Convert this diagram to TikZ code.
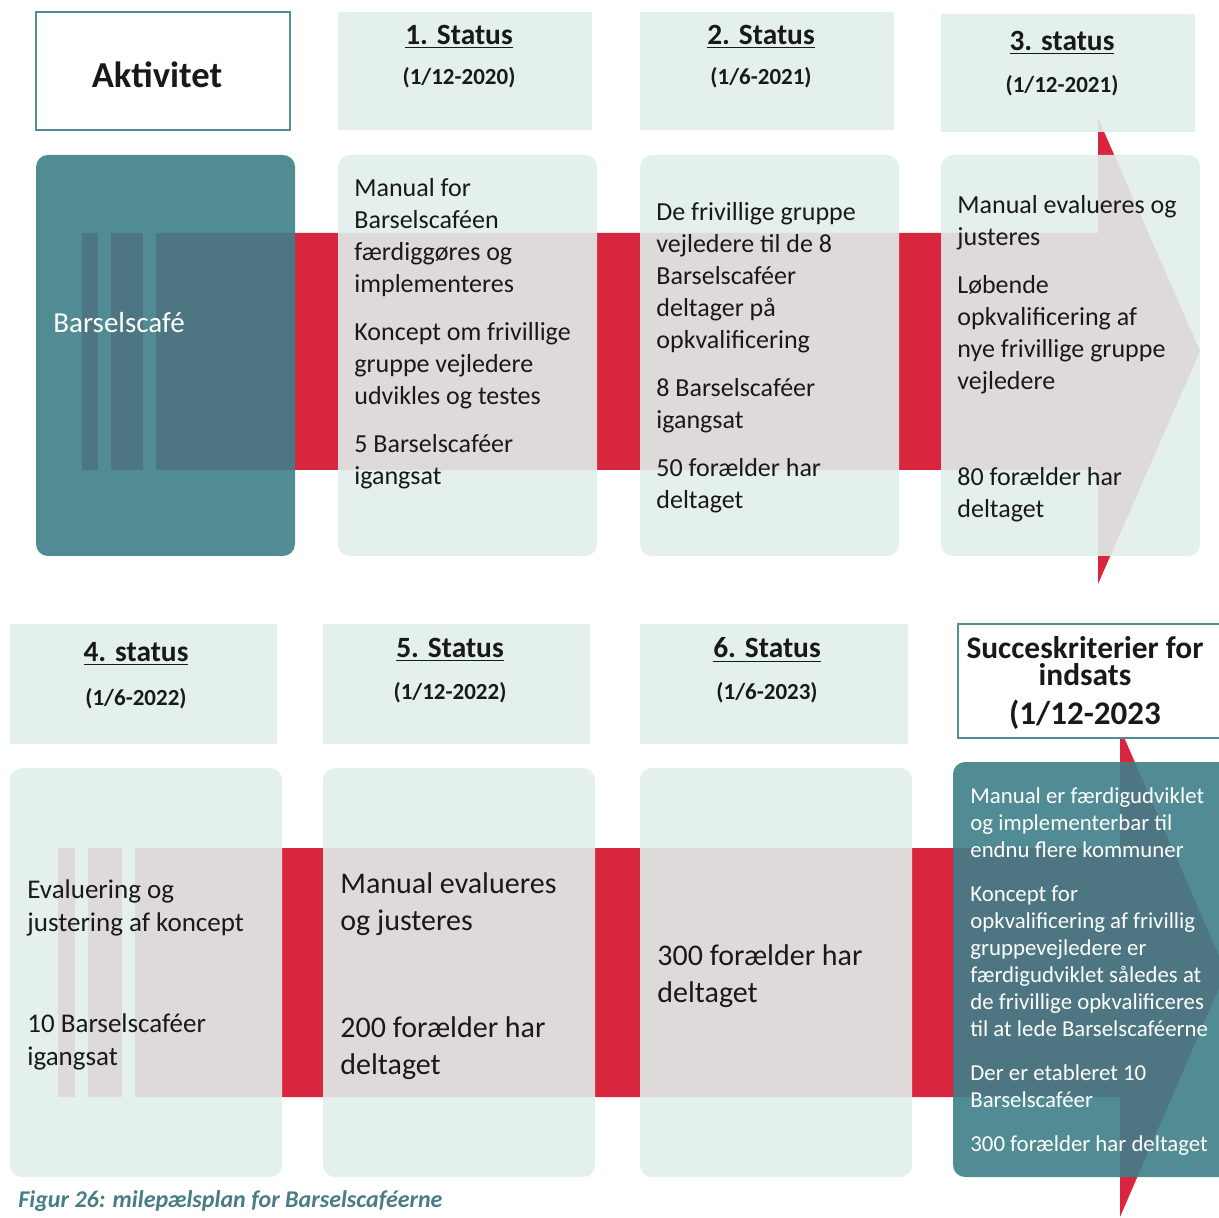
\documentclass[tikz,border=0pt]{standalone}
\usepackage{fontspec}
\setmainfont{Carlito}
\definecolor{arrowred}{RGB}{215,38,61}
\definecolor{mintfill}{RGB}{224,238,236}
\definecolor{tealfill}{RGB}{62,127,138}
\definecolor{tealline}{RGB}{84,140,150}
\definecolor{captionteal}{RGB}{72,124,134}
\definecolor{inktext}{RGB}{25,25,25}

\begin{document}
\begin{tikzpicture}[x=0.5pt, y=-0.5pt,
    mintbox/.style={fill=mintfill, fill opacity=0.9},
    tealbox/.style={fill=tealfill, fill opacity=0.9},
    headbox/.style={fill=white, draw=tealline, line width=0.6pt},
    bodytext/.style={anchor=north west, inner sep=0pt, align=left, text=inktext},
    headtext/.style={inner sep=0pt, align=center, text=inktext, font=\bfseries}]
    \useasboundingbox (0,0) rectangle (1219,1218);

    % top row arrow
    \fill [arrowred] (82,233) rectangle (98,470);
    \fill [arrowred] (111,233) rectangle (143,470);
    \fill [arrowred] (156,233) -- (1098,233) -- (1098,118) -- (1200,351)
        -- (1098,584) -- (1098,470) -- (156,470) -- cycle;

    % bottom row arrow
    \fill [arrowred] (58,848) rectangle (75,1097);
    \fill [arrowred] (88,848) rectangle (122,1097);
    \fill [arrowred] (135,848) -- (1120,848) -- (1120,728) -- (1226,972)
        -- (1120,1217) -- (1120,1097) -- (135,1097) -- cycle;

    % headers
    \fill [headbox] (36,12) rectangle (290,130);
    \fill [mintbox] (338,12) rectangle (592,130);
    \fill [mintbox] (640,12) rectangle (894,130);
    \fill [mintbox] (941,14) rectangle (1195,132);
    \fill [mintbox] (10,624) rectangle (277,744);
    \fill [mintbox] (323,624) rectangle (590,744);
    \fill [mintbox] (640,624) rectangle (908,744);
    \draw [headbox] (958,624) rectangle (1230,738);

    % content boxes
    \fill [tealbox, rounded corners=6pt] (36,155) rectangle (295,556);
    \fill [mintbox, rounded corners=6pt] (338,155) rectangle (597,556);
    \fill [mintbox, rounded corners=6pt] (640,155) rectangle (899,556);
    \fill [mintbox, rounded corners=6pt] (941,155) rectangle (1200,556);
    \fill [mintbox, rounded corners=6pt] (10,768) rectangle (282,1177);
    \fill [mintbox, rounded corners=6pt] (323,768) rectangle (595,1177);
    \fill [mintbox, rounded corners=6pt] (640,768) rectangle (912,1177);
    \fill [tealbox, rounded corners=6pt] (953,762) rectangle (1235,1177);

    % header texts
    \node [headtext, font=\bfseries\fontsize{18.3}{21}\selectfont] (aktivitet) at (157,75) {Aktivitet};
    \node [headtext, font=\bfseries\fontsize{14.7}{17}\selectfont] (status1) at (459,37) {\underline{1. Status}};
    \node [headtext, font=\bfseries\fontsize{11.5}{13}\selectfont] (date1) at (459,78) {(1/12-2020)};
    \node [headtext, font=\bfseries\fontsize{14.7}{17}\selectfont] (status2) at (761,37) {\underline{2. Status}};
    \node [headtext, font=\bfseries\fontsize{11.5}{13}\selectfont] (date2) at (761,78) {(1/6-2021)};
    \node [headtext, font=\bfseries\fontsize{14.7}{17}\selectfont] (status3) at (1062,43) {\underline{3. status}};
    \node [headtext, font=\bfseries\fontsize{11.5}{13}\selectfont] (date3) at (1062,86) {(1/12-2021)};
    \node [headtext, font=\bfseries\fontsize{14.7}{17}\selectfont] (status4) at (136,654) {\underline{4. status}};
    \node [headtext, font=\bfseries\fontsize{11.5}{13}\selectfont] (date4) at (136,699) {(1/6-2022)};
    \node [headtext, font=\bfseries\fontsize{14.7}{17}\selectfont] (status5) at (450,650) {\underline{5. Status}};
    \node [headtext, font=\bfseries\fontsize{11.5}{13}\selectfont] (date5) at (450,693) {(1/12-2022)};
    \node [headtext, font=\bfseries\fontsize{14.7}{17}\selectfont] (status6) at (767,650) {\underline{6. Status}};
    \node [headtext, font=\bfseries\fontsize{11.5}{13}\selectfont] (date6) at (767,693) {(1/6-2023)};
    \node [headtext, font=\bfseries\fontsize{15.7}{13.5}\selectfont] (succes) at (1085,661) {Succeskriterier for\\indsats};
    \node [headtext, font=\bfseries\fontsize{16.5}{19}\selectfont] (succesdate) at (1085,715) {(1/12-2023};

    % body texts
    \node [bodytext, text=white, font=\fontsize{14.5}{17}\selectfont, anchor=west] (barsel) at (53,323) {Barselscafé};
    \node [bodytext, font=\fontsize{13}{16}\selectfont] (text1) at (354,178)
        {Manual for\\Barselscaféen\\færdiggøres og\\implementeres\\[8pt]
         Koncept om frivillige\\gruppe vejledere\\udvikles og testes\\[8pt]
         5 Barselscaféer\\igangsat};
    \node [bodytext, font=\fontsize{13}{16}\selectfont] (text2) at (656,202)
        {De frivillige gruppe\\vejledere til de 8\\Barselscaféer\\deltager på\\opkvalificering\\[8pt]
         8 Barselscaféer\\igangsat\\[8pt]
         50 forælder har\\deltaget};
    \node [bodytext, font=\fontsize{13}{16}\selectfont] (text3) at (957,195)
        {Manual evalueres og\\justeres\\[8pt]
         Løbende\\opkvalificering af\\nye frivillige gruppe\\vejledere\\[32pt]
         80 forælder har\\deltaget};
    \node [bodytext, font=\fontsize{13.5}{16.5}\selectfont] (text4) at (27,879)
        {Evaluering og\\justering af koncept\\[34pt]
         10 Barselscaféer\\igangsat};
    \node [bodytext, font=\fontsize{15}{18.5}\selectfont] (text5) at (340,872)
        {Manual evalueres\\og justeres\\[35pt]
         200 forælder har\\deltaget};
    \node [bodytext, font=\fontsize{15}{18.5}\selectfont] (text6) at (657,944)
        {300 forælder har\\deltaget};
    \node [bodytext, text=white, font=\fontsize{11.4}{13.5}\selectfont] (succestext) at (970,787)
        {Manual er færdigudviklet\\og implementerbar til\\endnu flere kommuner\\[8.5pt]
         Koncept for\\opkvalificering af frivillig\\gruppevejledere er\\færdigudviklet således at\\de frivillige opkvalificeres\\til at lede Barselscaféerne\\[8.5pt]
         Der er etableret 10\\Barselscaféer\\[8.5pt]
         300 forælder har deltaget};

    % caption
    \node [bodytext, anchor=west, text=captionteal, font=\bfseries\itshape\fontsize{12}{14}\selectfont] (caption) at (18,1201)
        {Figur 26: milepælsplan for Barselscaféerne};
\end{tikzpicture}
\end{document}
